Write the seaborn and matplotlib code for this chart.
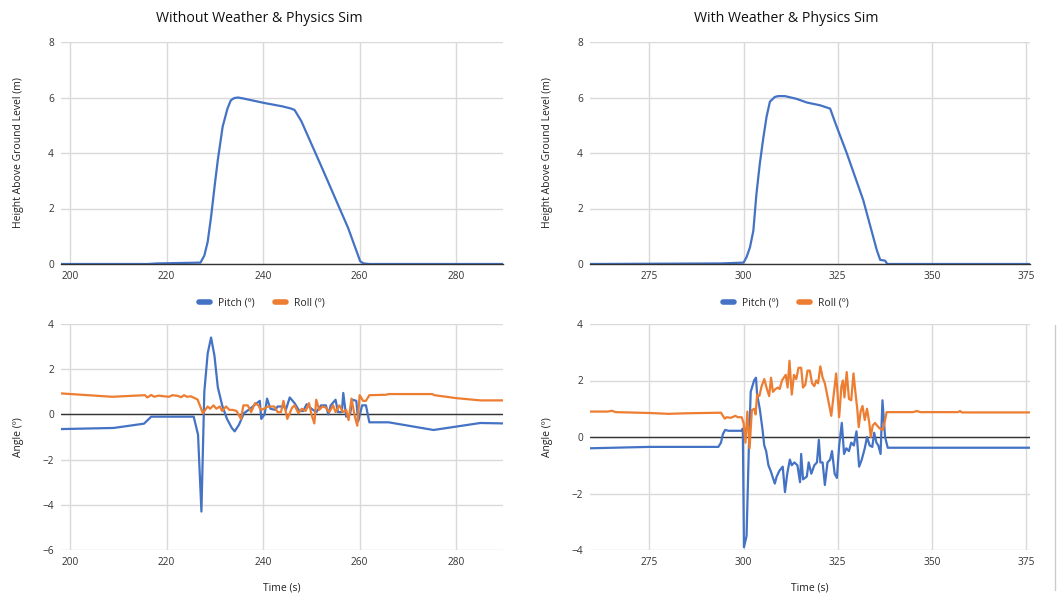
import matplotlib
matplotlib.use("Agg")
import matplotlib.pyplot as plt
from matplotlib.lines import Line2D
import seaborn as sns

sns.set_style("whitegrid")
plt.rcParams['font.family'] = ['Open Sans', 'DejaVu Sans']

BLUE = '#4472C4'
ORANGE = '#ED7D31'
GRID = '#d9d9d9'

# ---- height, without sim
hl_t = [198, 216, 218, 227, 227.8, 228.5, 229.2, 230, 230.6, 231.6, 232.6, 233.3, 234, 234.8,
        236, 240.3, 244, 245.8, 246.5, 247.9, 252.1, 257.6, 260.1, 260.8, 262, 290]
hl_h = [0, 0, 0.02, 0.05, 0.3, 0.8, 1.7, 2.9, 3.75, 4.95, 5.6, 5.9, 5.98, 6.0,
        5.96, 5.8, 5.68, 5.6, 5.55, 5.15, 3.5, 1.3, 0.1, 0.02, 0, 0]

# ---- height, with sim
hr_t = [259, 294, 300, 300.8, 301.7, 302.6, 303.4, 304.3, 305.2, 306.1, 307, 308.3, 309.2, 311,
        314.1, 316.8, 320.3, 323, 324.6, 327.4, 331.8, 335.4, 336.3, 337.6, 338.2, 376]
hr_h = [0, 0.02, 0.05, 0.25, 0.6, 1.2, 2.5, 3.6, 4.5, 5.3, 5.85, 6.02, 6.05, 6.05,
        5.95, 5.82, 5.72, 5.6, 5.0, 4.0, 2.3, 0.5, 0.15, 0.12, 0.0, 0]

# ---- angles, without sim
pl_t = [198, 209, 215.3, 216.8, 225.6, 226.5, 227.2, 227.8, 228.5, 229.2, 229.9, 230.6, 231.5, 232.5,
        233.5, 234.1, 235, 236, 237.3, 238.4, 239.3, 239.6, 240.3, 240.8, 241.5, 242.5, 243, 244.3,
        244.7, 245.5, 246.5, 247.5, 248.3, 249, 250, 251, 252, 253, 253.5, 254, 255, 255.5, 256.3,
        256.6, 257.2, 258, 258.5, 259.3, 259.7, 260.5, 261.3, 262, 266, 275.3, 285, 290]
pl_v = [-0.65, -0.6, -0.41, -0.1, -0.1, -0.9, -4.3, 1.0, 2.7, 3.4, 2.6, 1.2, 0.4, -0.2,
        -0.6, -0.75, -0.45, 0.05, 0.25, 0.45, 0.6, -0.2, 0.0, 0.7, 0.25, 0.2, 0.35, 0.35,
        0.2, 0.75, 0.5, 0.15, 0.15, 0.45, 0.25, 0.1, 0.4, 0.4, 0.0, 0.4, 0.65, 0.1, 0.1,
        0.95, -0.1, 0.0, 0.65, 0.6, -0.3, 0.4, 0.4, -0.35, -0.35, -0.69, -0.38, -0.4]
rl_t = [198, 208.7, 215.5, 216, 216.8, 217.4, 218.3, 219.5, 220.5, 221.2, 222.3, 223, 223.6, 224.2,
        225, 226.4, 227.5, 228.5, 229, 229.7, 230.3, 231, 231.5, 232.3, 233, 233.7, 234.5, 235.4,
        235.9, 236.8, 237.5, 238.3, 239, 239.5, 240.2, 241, 241.7, 242.3, 243, 243.7, 244.2, 245,
        246, 246.5, 247.3, 248, 248.8, 249.5, 250, 250.6, 251, 251.6, 252.3, 253, 253.7, 254.5,
        255, 255.8, 256.5, 257.2, 257.7, 258.3, 259, 259.5, 260, 260.7, 261.3, 262, 265.5, 266,
        275, 275.5, 280, 285, 290]
rl_v = [0.93, 0.78, 0.85, 0.75, 0.86, 0.78, 0.83, 0.8, 0.78, 0.85, 0.82, 0.76, 0.85, 0.78,
        0.8, 0.66, 0.05, 0.35, 0.25, 0.4, 0.25, 0.35, 0.15, 0.35, 0.2, 0.2, 0.15, -0.2,
        0.4, 0.4, 0.1, 0.5, 0.4, 0.2, 0.25, 0.35, 0.35, 0.35, 0.1, 0.1, 0.6, -0.2,
        0.3, 0.4, 0.05, 0.25, 0.15, 0.5, 0.0, -0.4, 0.65, 0.2, 0.35, 0.3, 0.1, 0.4,
        0.1, 0.4, 0.1, 0.2, -0.25, 0.7, -0.1, -0.5, 0.85, 0.6, 0.6, 0.85, 0.87, 0.9,
        0.9, 0.85, 0.72, 0.62, 0.62]

# ---- angles, with sim
pr_t = [259, 275, 293.3, 294, 294.5, 295.1, 296, 299.5, 299.8, 300.1, 300.8, 301.4, 301.9, 302.8,
        303.3, 303.6, 304.3, 305, 305.5, 306, 306.6, 307.2, 308.3, 308.8, 309.5, 310.4, 311, 311.6,
        312.3, 312.8, 313.5, 314.3, 315, 315.3, 315.8, 316.8, 317.3, 318, 318.8, 319.5, 320, 320.4,
        321, 321.6, 322.3, 323, 323.5, 324.2, 324.8, 325.4, 326.1, 326.7, 327.3, 328, 328.6, 329.3,
        330, 330.7, 331.4, 332.2, 332.8, 333.5, 334.2, 334.7, 335.3, 335.8, 336.4, 336.9, 337.6,
        338.3, 376]
pr_v = [-0.4, -0.35, -0.35, -0.2, 0.1, 0.25, 0.22, 0.22, 0.3, -3.9, -3.5, -0.4, 1.6, 2.0,
        2.1, 1.5, 1.0, 0.3, -0.3, -0.5, -1.0, -1.2, -1.65, -1.4, -1.2, -1.05, -1.95, -1.3,
        -0.8, -1.0, -0.9, -1.0, -1.6, -0.6, -1.5, -1.4, -0.9, -1.3, -1.0, -0.9, -0.1, -0.9,
        -0.9, -1.7, -0.9, -0.8, -0.5, -1.3, -1.45, -0.3, 0.5, -0.6, -0.4, -0.5, -0.2, -0.3,
        0.2, -1.05, -0.8, -0.4, 0.0, -0.3, -0.35, 0.15, -0.2, -0.3, -0.6, 1.3, 0.0,
        -0.38, -0.38]
rr_t = [259, 264, 265, 266, 275, 280, 285, 294, 294.5, 295, 295.5, 296.5, 297, 297.8, 298.5,
        299.5, 300, 300.5, 301, 301.6, 302.2, 302.8, 303.2, 303.6, 304.2, 304.8, 305.5, 306.2,
        306.8, 307.3, 307.8, 308.5, 309.1, 309.6, 310.2, 310.7, 311.2, 311.7, 312.2, 312.8, 313.4,
        314, 314.6, 315.3, 315.8, 316.4, 317, 317.6, 318.2, 318.8, 319.3, 319.8, 320.4, 321,
        321.6, 322.2, 323.3, 324.6, 325.4, 326, 326.4, 326.8, 327.4, 328, 328.6, 329.2, 329.7,
        330.2, 330.6, 331.1, 331.6, 332.2, 332.8, 333.4, 333.8, 334.3, 334.9, 335.5, 336.2, 337,
        337.6, 338, 345, 346, 347, 357, 357.5, 358, 376]
rr_v = [0.9, 0.9, 0.93, 0.88, 0.85, 0.82, 0.84, 0.86, 0.75, 0.65, 0.7, 0.68, 0.7, 0.75, 0.7,
        0.7, 0.5, -0.2, 0.9, -0.4, 0.95, 1.0, 0.8, 1.5, 1.45, 1.8, 2.05, 1.7,
        1.45, 2.1, 1.6, 1.7, 1.75, 1.7, 2.0, 2.1, 2.2, 1.75, 2.7, 1.5, 2.2,
        2.05, 2.45, 2.45, 1.75, 1.85, 2.35, 2.35, 1.9, 1.8, 2.0, 1.9, 2.5, 2.1,
        1.9, 1.5, 0.75, 2.25, 0.7, 1.8, 2.0, 1.4, 2.3, 1.35, 1.3, 2.25, 1.6,
        1.0, 0.35, 0.9, 1.1, 0.6, 1.0, 0.5, 0.0, 0.4, 0.5, 0.4, 0.3, 0.25,
        0.6, 0.88, 0.88, 0.92, 0.88, 0.88, 0.92, 0.87, 0.87]

titles = ['Without Weather & Physics Sim', 'With Weather & Physics Sim']

W, H = 1062, 604
fig = plt.figure(figsize=(W / 100, H / 100), dpi=100)


def box(x0, y0, x1, y1):
    return [x0 / W, 1 - y1 / H, (x1 - x0) / W, (y1 - y0) / H]


def style(ax, xlim, xticks, ylim, yticks):
    ax.set_xlim(xlim)
    ax.set_ylim(ylim)
    ax.set_xticks(xticks)
    ax.set_yticks(yticks)
    ax.grid(True, color=GRID, linewidth=1)
    for s in ax.spines.values():
        s.set_visible(False)
    ax.tick_params(length=0, labelsize=7.3, colors='#333333', pad=5)
    ax.set_xlabel('')
    ax.set_ylabel('')


ax_tl = fig.add_axes(box(61, 42, 503, 264))
ax_tr = fig.add_axes(box(590, 42, 1030, 264))
ax_bl = fig.add_axes(box(61, 324, 503, 550))
ax_br = fig.add_axes(box(590, 324, 1030, 550))

LW = 1.6
sns.lineplot(x=hl_t, y=hl_h, ax=ax_tl, color=BLUE, linewidth=LW)
sns.lineplot(x=hr_t, y=hr_h, ax=ax_tr, color=BLUE, linewidth=LW)
sns.lineplot(x=pl_t, y=pl_v, ax=ax_bl, color=BLUE, linewidth=LW, sort=False)
sns.lineplot(x=rl_t, y=rl_v, ax=ax_bl, color=ORANGE, linewidth=LW, sort=False)
sns.lineplot(x=pr_t, y=pr_v, ax=ax_br, color=BLUE, linewidth=LW, sort=False)
sns.lineplot(x=rr_t, y=rr_v, ax=ax_br, color=ORANGE, linewidth=LW, sort=False)

style(ax_tl, (198.1, 289.7), [200, 220, 240, 260, 280], (0, 8), [0, 2, 4, 6, 8])
style(ax_tr, (259.2, 376.1), [275, 300, 325, 350, 375], (0, 8), [0, 2, 4, 6, 8])
style(ax_bl, (198.1, 289.7), [200, 220, 240, 260, 280], (-6, 4), [-6, -4, -2, 0, 2, 4])
style(ax_br, (259.2, 376.1), [275, 300, 325, 350, 375], (-4, 4), [-4, -2, 0, 2, 4])

for ax in (ax_tl, ax_tr):
    ax.spines['bottom'].set_visible(True)
    ax.spines['bottom'].set_color('#333333')
    ax.spines['bottom'].set_linewidth(1)
    ax.set_ylabel('Height Above Ground Level (m)', fontsize=7.5, color='#222222')
for ax in (ax_bl, ax_br):
    ax.axhline(0, color='#333333', linewidth=1, zorder=1)
    ax.set_ylabel('Angle (º)', fontsize=7.5, color='#222222')
    ax.set_xlabel('Time (s)', fontsize=7.5, color='#222222', labelpad=10.5)

for ax in (ax_tl, ax_bl):
    ax.yaxis.set_label_coords(-(61 - 24) / 442, 0.5)
for ax in (ax_tr, ax_br):
    ax.yaxis.set_label_coords(-(590 - 553) / 440, 0.5)

fig.text(259 / W, 1 - 18 / H, titles[0], ha='center', va='center', fontsize=10.2, color='#111111')
fig.text(786 / W, 1 - 18 / H, titles[1], ha='center', va='center', fontsize=10.2, color='#111111')

handles = [Line2D([], [], color=BLUE, linewidth=4), Line2D([], [], color=ORANGE, linewidth=4)]
labels = ['Pitch (º)', 'Roll (º)']
for cx in (262, 786):
    fig.legend(handles, labels, loc='center', bbox_to_anchor=(cx / W, 1 - 303 / H), ncol=2,
               frameon=False, fontsize=7.5, handlelength=1.0, columnspacing=2.0, handletextpad=0.8)

fig.add_artist(Line2D([1055 / W, 1055 / W], [1 - 325 / H, 1 - 590 / H], color='#cccccc', linewidth=1))

fig.savefig('out.png', dpi=100)
